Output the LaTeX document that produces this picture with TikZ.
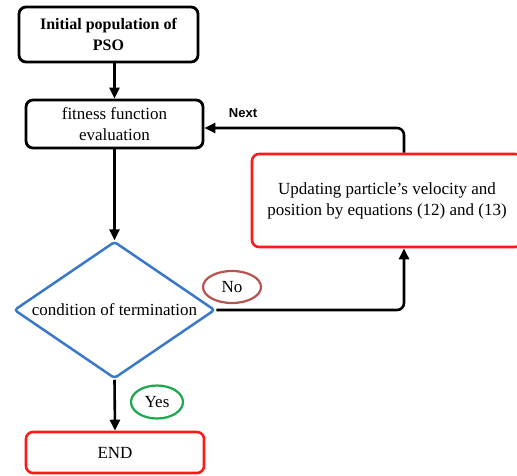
\documentclass[tikz,border=0pt]{standalone}
\usepackage{fontspec}
\setmainfont{Liberation Serif}
\newfontfamily\nextfont{Liberation Sans}
\usetikzlibrary{shapes.geometric,arrows.meta}
\definecolor{dblue}{HTML}{3A78C8}
\definecolor{bred}{HTML}{FF1A1A}
\definecolor{nored}{HTML}{B85450}
\definecolor{ygreen}{HTML}{1AA84A}
\begin{document}
\begin{tikzpicture}[x=1pt,y=-1pt,
  txt/.style={font=\fontsize{17}{21}\selectfont, align=center, inner sep=0pt},
  blackbox/.style={draw=black, line width=2.8pt, rounded corners=7pt},
  redbox/.style={draw=bred, line width=2.6pt, rounded corners=7pt},
  conn/.style={line width=2.6pt, -{Triangle[length=11pt,width=10pt]}},
  lbl/.style={ellipse, line width=2.2pt, inner sep=0pt, font=\fontsize{17}{19}\selectfont}]
\useasboundingbox (0,0) rectangle (517,475);
% boxes
\node[blackbox, minimum width=179pt, minimum height=55pt, txt, font=\fontsize{16}{21}\selectfont\bfseries] (init) at (108.5,34.5)
  {Initial population of\\PSO};
\node[blackbox, minimum width=177pt, minimum height=48pt, txt] (fit) at (114.5,124)
  {fitness function\\evaluation};
\node[draw=dblue, line width=2.5pt, diamond, aspect=1.47, minimum width=201pt, minimum height=137pt, inner sep=0pt, rounded corners=3pt] (cond) at (114.5,310) {};
\node[txt] at (cond.center) {condition of termination};
\node[redbox, minimum width=178pt, minimum height=41pt, txt] (end) at (115,452.5) {END};
\node[redbox, minimum width=270pt, minimum height=93pt] (upd) at (387,200.5) {};
\node[txt] at (387,200.5) {Updating particle's velocity and\\position by equations (12) and (13)};
% labels
\node[lbl, draw=nored, minimum width=58pt, minimum height=32pt] (no) at (232,287) {No};
\node[lbl, draw=ygreen, minimum width=52pt, minimum height=33pt] (yes) at (157,402) {Yes};
\node[inner sep=0pt, font=\nextfont\bfseries\fontsize{13}{15}\selectfont] (nxt) at (243,113) {Next};
% connectors
\draw[conn] (fit.north |- init.south) -- (fit.north);
\draw[conn] (fit.south) -- (cond.north);
\draw[conn] (cond.south) -- (end.north);
\coordinate (c1) at (404,311);
\coordinate (c2) at (404,128);
\draw[conn, rounded corners=7pt] (cond.east) -- (cond.east -| c1) -- (upd.south -| c1);
\draw[conn, rounded corners=7pt] (upd.north -| c2) -- (c2) -- (fit.east |- c2);
\end{tikzpicture}
\end{document}
